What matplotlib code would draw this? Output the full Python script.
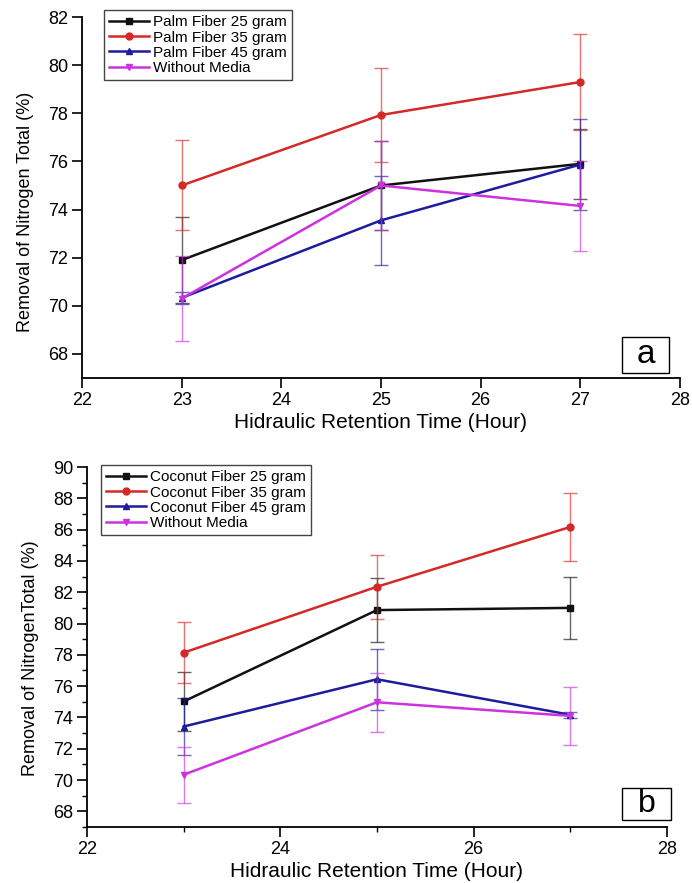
import matplotlib
matplotlib.use("Agg")
import matplotlib.pyplot as plt
from matplotlib.patches import Rectangle
from matplotlib.ticker import MultipleLocator

plt.rcParams["font.family"] = ["Liberation Sans", "DejaVu Sans"]

# Hydraulic retention time (hour)
hrt = [23, 25, 27]

# Panel a: palm fiber
palm_labels = ["Palm Fiber 25 gram", "Palm Fiber 35 gram", "Palm Fiber 45 gram", "Without Media"]
palm_25 = [71.9, 75.0, 75.9]
palm_25_err = [1.8, 1.85, 1.45]
palm_35 = [75.0, 77.93, 79.3]
palm_35_err = [1.87, 1.95, 2.0]
palm_45 = [70.33, 73.55, 75.87]
palm_45_err = [0.25, 1.85, 1.88]
palm_none = [70.3, 75.0, 74.15]
palm_none_err = [1.75, 1.85, 1.86]

# Panel b: coconut fiber
coco_labels = ["Coconut Fiber 25 gram", "Coconut Fiber 35 gram", "Coconut Fiber 45 gram", "Without Media"]
coco_25 = [75.02, 80.86, 81.0]
coco_25_err = [1.87, 2.05, 2.0]
coco_35 = [78.14, 82.35, 86.17]
coco_35_err = [1.95, 2.05, 2.15]
coco_45 = [73.42, 76.44, 74.17]
coco_45_err = [1.8, 1.95, 0.2]
coco_none = [70.34, 74.97, 74.1]
coco_none_err = [1.8, 1.87, 1.86]

colors = ["#111111", "#d42a26", "#1c1c9c", "#cc33dd"]
markers = ["s", "o", "^", "v"]


def draw_panel(ax, series, errs, labels):
    handles = []
    for y, e, lab, c, m in zip(series, errs, labels, colors, markers):
        ax.errorbar(hrt, y, yerr=e, fmt="none", ecolor=c, elinewidth=1.0,
                    capsize=5, capthick=1.0, alpha=0.65)
        h, = ax.plot(hrt, y, color=c, marker=m, markersize=5, linewidth=1.8, label=lab)
        handles.append(h)
    ax.spines["top"].set_visible(False)
    ax.spines["right"].set_visible(False)
    ax.spines["left"].set_linewidth(1.3)
    ax.spines["bottom"].set_linewidth(1.3)
    ax.tick_params(which="major", direction="out", length=7, width=1.2, labelsize=13, pad=3)
    ax.tick_params(which="minor", direction="out", length=3.5, width=1.0)
    ax.set_xlabel("Hidraulic Retention Time (Hour)", fontsize=15, labelpad=3)
    return handles


def panel_tag(fig, x0, y0, w, h, letter, size):
    fig.patches.append(Rectangle((x0, y0), w, h, transform=fig.transFigure,
                                 fc="white", ec="black", lw=1.0))
    fig.text(x0 + w / 2, y0 + h / 2, letter, fontsize=size, ha="center", va="center")


def add_legend(fig, handles, anchor):
    fig.legend(handles=handles, loc="upper left", bbox_to_anchor=anchor,
               borderaxespad=0, fancybox=False, edgecolor="#444444", framealpha=1,
               fontsize=11, handlelength=2.6, labelspacing=0.08, borderpad=0.35,
               handletextpad=0.25)


fig = plt.figure(figsize=(6.92, 8.83), dpi=100)

# panel a
ax1 = fig.add_axes([0.1185, 0.5719, 0.864, 0.4088])
h1 = draw_panel(ax1, [palm_25, palm_35, palm_45, palm_none],
                [palm_25_err, palm_35_err, palm_45_err, palm_none_err], palm_labels)
ax1.set_xlim(22, 28)
ax1.set_ylim(67, 82)
ax1.xaxis.set_major_locator(MultipleLocator(1))
ax1.yaxis.set_major_locator(MultipleLocator(2))
ax1.set_ylabel("Removal of Nitrogen Total (%)", fontsize=13)
ax1.yaxis.set_label_coords(-0.08, 0.46)
add_legend(fig, h1, (0.150, 0.9887))
panel_tag(fig, 0.8988, 0.5776, 0.0679, 0.0408, "a", 24)

# panel b
ax2 = fig.add_axes([0.1257, 0.0634, 0.838, 0.4077])
h2 = draw_panel(ax2, [coco_25, coco_35, coco_45, coco_none],
                [coco_25_err, coco_35_err, coco_45_err, coco_none_err], coco_labels)
ax2.set_xlim(22, 28)
ax2.set_ylim(67, 90)
ax2.xaxis.set_major_locator(MultipleLocator(2))
ax2.xaxis.set_minor_locator(MultipleLocator(1))
ax2.yaxis.set_major_locator(MultipleLocator(2))
ax2.yaxis.set_minor_locator(MultipleLocator(1))
ax2.set_ylabel("Removal of NitrogenTotal (%)", fontsize=13)
ax2.yaxis.set_label_coords(-0.082, 0.47)
add_legend(fig, h2, (0.146, 0.4734))
panel_tag(fig, 0.8988, 0.0713, 0.0708, 0.0362, "b", 23)

fig.savefig("out.png", dpi=100)
